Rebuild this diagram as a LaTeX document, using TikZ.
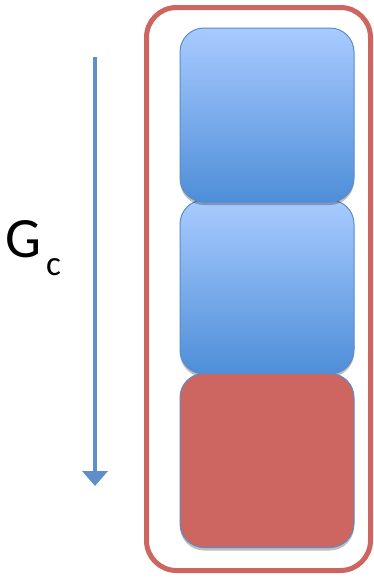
\documentclass[tikz,border=0pt]{standalone}
\usepackage{fontspec}
\setmainfont{Carlito}
\usetikzlibrary{shadows,arrows.meta}
\definecolor{redc}{HTML}{CD6660}
\definecolor{bluetop}{HTML}{A8CBFF}
\definecolor{bluebot}{HTML}{4E8ED8}
\definecolor{blueline}{HTML}{5A8CC8}
\definecolor{arrowc}{HTML}{5F8FC9}
\tikzset{
  layer/.style={draw=blueline, line width=1pt, rounded corners=24pt,
    minimum width=174pt, minimum height=174pt, inner sep=0pt,
    drop shadow={shadow xshift=0pt, shadow yshift=-3pt, opacity=0.25, fill=black}},
  bluelayer/.style={layer, top color=bluetop, bottom color=bluebot},
  redlayer/.style={layer, fill=redc},
  frame/.style={draw=redc, line width=5pt, rounded corners=30pt,
    minimum width=224pt, minimum height=563pt, inner sep=0pt}
}
\begin{document}
\begin{tikzpicture}[x=1pt,y=-1pt]
\useasboundingbox (0,0) rectangle (373,579);
\node[frame] (outer) at (258.5,289) {};
\node[bluelayer] (b2) at (267,287) {};
\node[bluelayer] (b1) at (267,115) {};
\node[redlayer] (r3) at (267,460.5) {};
\coordinate (astart) at (95,57);
\coordinate (aend) at (95,486);
\draw[arrowc, line width=4.5pt, -{Triangle[width=25pt,length=15pt]}] (astart) -- (aend);
\node[anchor=base west, inner sep=0pt, font=\fontsize{57}{57}\selectfont] (G) at (5,257) {G};
\node[anchor=base west, inner sep=0pt, font=\fontsize{35}{35}\selectfont] (c) at (46,275) {c};
\end{tikzpicture}
\end{document}
